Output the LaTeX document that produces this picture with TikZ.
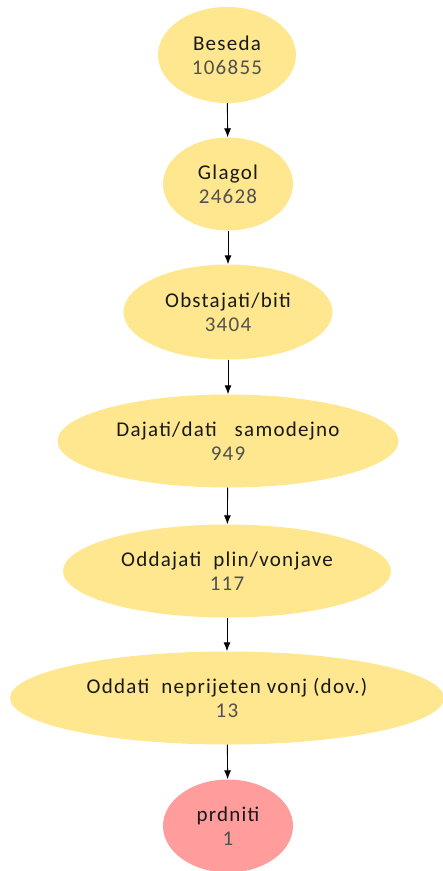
\documentclass[tikz,border=0pt]{standalone}
\usepackage{fontspec}
\setmainfont{Carlito}[LetterSpace=6]
\usetikzlibrary{arrows.meta,shapes.geometric}
\definecolor{hierfill}{RGB}{255,231,143}
\definecolor{hierleaf}{RGB}{255,156,156}
\definecolor{hiernum}{RGB}{80,80,80}
\definecolor{hiertext}{RGB}{25,25,25}

\begin{document}
\begin{tikzpicture}[x=1pt,y=-1pt,
  term/.style={ellipse,fill=hierfill,inner sep=0pt,minimum height=93pt,align=center,
    text=hiertext,font=\fontsize{21}{24}\selectfont},
  leaf/.style={term,fill=hierleaf},
  link/.style={-{Latex[length=9pt,width=7pt]},line width=0.9pt,black}]
  \useasboundingbox (0,0) rectangle (443,871);
  % chain of terms, top to bottom
  \node[term,minimum width=138pt,minimum height=96pt] (beseda) at (227,55) {Beseda\\\textcolor{hiernum}{106855}};
  \node[term,minimum width=130pt] (glagol) at (228,184) {Glagol\\\textcolor{hiernum}{24628}};
  \node[term,minimum width=209pt,minimum height=95pt] (obstajati) at (228,312) {Obstajati/biti\\\textcolor{hiernum}{3404}};
  \node[term,minimum width=341pt] (dajati) at (228,441) {Dajati/dati\ \ \ samodejno\\\textcolor{hiernum}{949}};
  \node[term,minimum width=328pt] (oddajati) at (227,571) {Oddajati\ \ plin/vonjave\\\textcolor{hiernum}{117}};
  \node[term,minimum width=434pt] (oddati) at (227,698) {Oddati\ \ neprijeten\ vonj\ (dov.)\\\textcolor{hiernum}{13}};
  \node[leaf,minimum width=130pt] (prdniti) at (228,826) {prdniti\\\textcolor{hiernum}{1}};
  \foreach \a/\b in {beseda/glagol,glagol/obstajati,obstajati/dajati,dajati/oddajati,oddajati/oddati,oddati/prdniti}
    \draw[link] (\a) -- (\b);
\end{tikzpicture}
\end{document}
